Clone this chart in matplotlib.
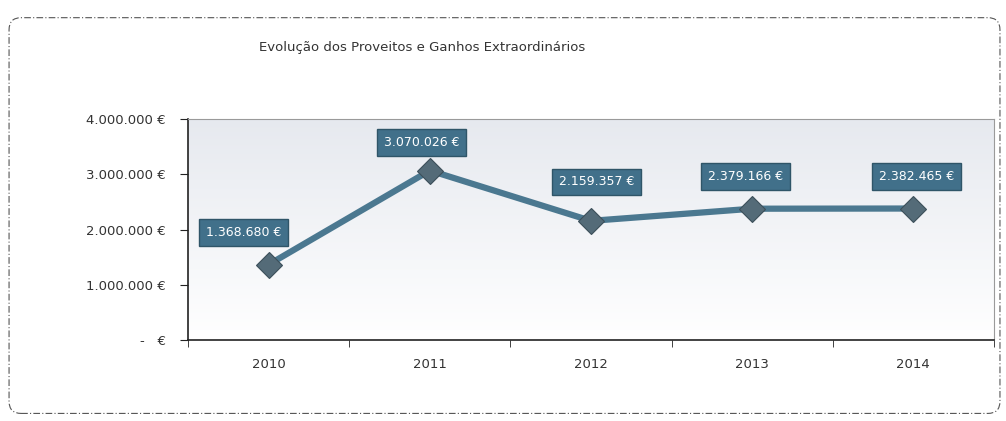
import numpy as np
import matplotlib.pyplot as plt
from matplotlib.colors import LinearSegmentedColormap
from matplotlib.patches import FancyBboxPatch

plt.rcParams['font.family'] = ['DejaVu Sans']

anos = ['2010', '2011', '2012', '2013', '2014']
valores = [1368680, 3070026, 2159357, 2379166, 2382465]
rotulos = ['1.368.680 €', '3.070.026 €', '2.159.357 €', '2.379.166 €', '2.382.465 €']
y_ticks = [0, 1000000, 2000000, 3000000, 4000000]
y_rotulos = ['-   €', '1.000.000 €', '2.000.000 €', '3.000.000 €', '4.000.000 €']
# offsets of data labels (points)
desloc = [(-18, 23), (-6, 20), (4, 28), (-5, 23), (2, 23)]

fig = plt.figure(figsize=(10.06, 4.21), dpi=100)

# outer rounded dashed frame
frame = FancyBboxPatch((0.009, 0.018), 0.985, 0.94, boxstyle='round,pad=0,rounding_size=0.012',
                       mutation_aspect=2.4, transform=fig.transFigure, fill=False,
                       edgecolor='#555555', linestyle=(0, (6, 2, 1, 2)), linewidth=0.8)
fig.patches.append(frame)

ax = fig.add_axes([0.187, 0.192, 0.801, 0.525])
x = np.arange(len(anos))

# gradient background
grad = np.linspace(0, 1, 256).reshape(-1, 1)
ax.imshow(grad, extent=[-0.5, 4.5, 0, 4000000], aspect='auto', origin='lower',
          cmap=LinearSegmentedColormap.from_list('g', ['#ffffff', '#e6e9ef']), zorder=0)

ax.plot(x, valores, color='#4b7890', linewidth=4.5, zorder=2,
        marker='D', markersize=13, markerfacecolor='#546b78', markeredgecolor='#3c4f5a',
        markeredgewidth=0.8)

for xi, v, r, (dx, dy) in zip(x, valores, rotulos, desloc):
    ax.annotate(r, (xi, v), xytext=(dx, dy), textcoords='offset points',
                ha='center', va='center', fontsize=9, color='white', zorder=3,
                bbox=dict(boxstyle='square,pad=0.55', facecolor='#41708a', edgecolor='#2f5568'))

ax.set_xlim(-0.5, 4.5)
ax.set_ylim(0, 4000000)
ax.set_yticks(y_ticks)
ax.set_yticklabels(y_rotulos, fontsize=9.5, color='#333333')
ax.set_xticks(x)
ax.set_xticklabels(anos, fontsize=9.5, color='#333333')
ax.set_xticks(np.arange(-0.5, 5, 1), minor=True)
ax.tick_params(axis='x', which='major', length=0, pad=13)
ax.tick_params(axis='x', which='minor', length=5, direction='out', color='#222222')
ax.tick_params(axis='y', length=6, direction='out', color='#222222', pad=10)

for s in ['left', 'bottom']:
    ax.spines[s].set_color('#222222')
    ax.spines[s].set_linewidth(1.2)
for s in ['top', 'right']:
    ax.spines[s].set_color('#9a9a9a')
    ax.spines[s].set_linewidth(0.8)

fig.text(0.257, 0.888, 'Evolução dos Proveitos e Ganhos Extraordinários',
         fontsize=9.5, color='#333333', ha='left', va='center')

fig.savefig('out.png', dpi=100)
